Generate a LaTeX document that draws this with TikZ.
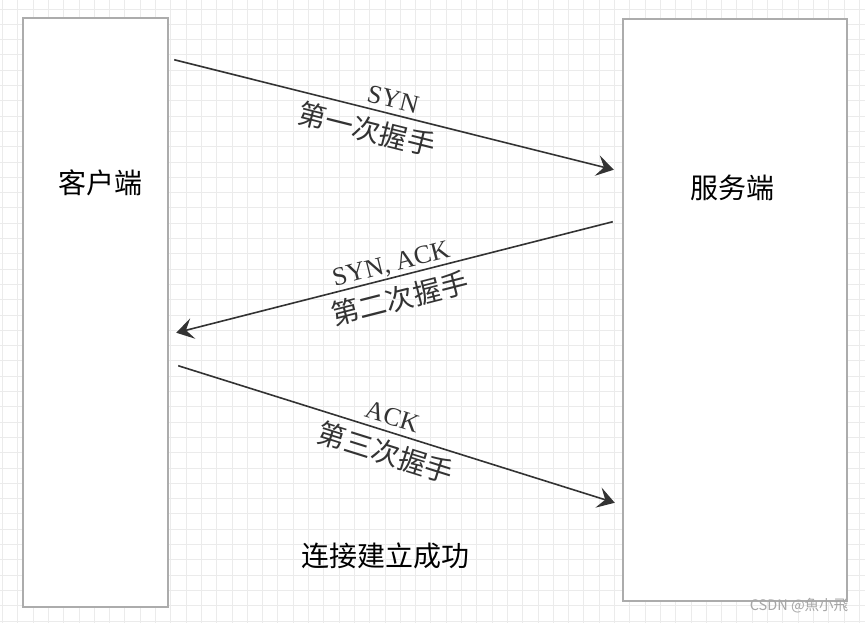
\documentclass[tikz,border=0pt]{standalone}
\usepackage{fontspec}
\usepackage{tikz}
\usetikzlibrary{arrows.meta}
\setmainfont{Liberation Serif}
\newfontfamily\cjk{Noto Sans CJK SC}

\tikzset{
  gridline/.style={gray!16, line width=0.8pt},
  hostbox/.style={draw=gray!65, line width=2.5pt, fill=white, inner sep=0pt},
  msg/.style={black!80, line width=1.6pt, -{Stealth[length=17pt,width=21pt,inset=7pt]}},
  msgtext/.style={font=\fontsize{26}{28}\selectfont, inner sep=1pt},
  cntext/.style={font=\cjk\fontsize{28}{30}\selectfont, inner sep=1pt},
}

\begin{document}
\begin{tikzpicture}[x=1pt, y=1pt]
            \useasboundingbox (0,0) rectangle (865,623);
            \fill[white] (0,0) rectangle (865,623);
            % grid
            \foreach \i in {0,...,56}
                \draw[gridline] ({2.4+15.3*\i},0) -- ({2.4+15.3*\i},623);
            \foreach \j in {0,...,40}
                \draw[gridline] (0,{614-15.3*\j}) -- (865,{614-15.3*\j});
            % hosts
            \node[hostbox, minimum width=145pt, minimum height=589pt] (client) at (95.5,310.5) {};
            \node[hostbox, minimum width=224pt, minimum height=582pt] (server) at (735,313) {};
            \node[cntext] (clientname) at (100,440) {客户端};
            \node[cntext] (servername) at (732,435) {服务端};
            % handshake
            \draw[msg] ([shift={(5,-43)}]client.north east) -- ([shift={(-8,-152)}]server.north west)
                node[msgtext, pos=0.49, sloped, above=4pt] (syn) {SYN}
                node[cntext, pos=0.45, sloped, below=6pt] (first) {第一次握手};
            \draw[msg] ([shift={(-9,-204)}]server.north west) -- ([shift={(7,-316)}]client.north east)
                node[msgtext, pos=0.5, sloped, above=0pt] (synack) {SYN, ACK}
                node[cntext, pos=0.5, sloped, below=7pt] (second) {第二次握手};
            \draw[msg] ([shift={(9,-349)}]client.north east) -- ([shift={(-7,-485)}]server.north west)
                node[msgtext, pos=0.48, sloped, above=5pt] (ack) {ACK}
                node[cntext, pos=0.49, sloped, below=6pt] (third) {第三次握手};
            \node[cntext] (done) at (385,67) {连接建立成功};
            \node[font=\cjk\fontsize{14.5}{16}\selectfont, text=gray!70, inner sep=0pt] (mark) at (799,17) {CSDN @魚小飛};
        \end{tikzpicture}
\end{document}
